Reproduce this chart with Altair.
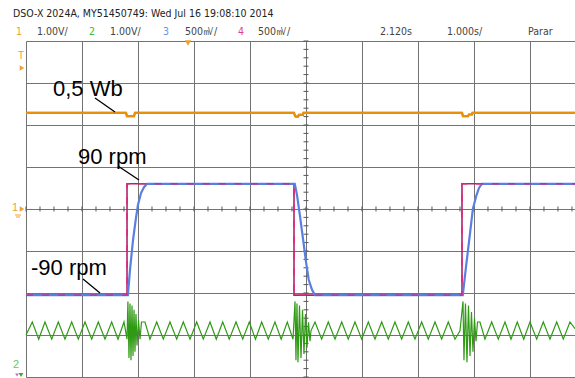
import altair as alt
import pandas as pd

# ---- data (time in seconds = screen divisions, value in divisions) ----
orange_t = [0.0, 1.786, 1.804, 1.929, 1.946, 4.786, 4.804, 4.821, 4.857, 4.875, 4.946, 4.955,
            7.786, 7.804, 7.893, 7.911, 7.964, 7.973, 9.804]
orange_v = [6.29, 6.29, 6.21, 6.21, 6.29, 6.29, 6.22, 6.20, 6.20, 6.24, 6.24, 6.29,
            6.29, 6.21, 6.21, 6.25, 6.25, 6.29, 6.29]

ref_t = [0.0, 1.804, 1.804, 4.786, 4.786, 7.786, 7.786, 9.804]
ref_v = [1.95, 1.95, 4.60, 4.60, 1.95, 1.95, 4.60, 4.60]

speed_t = [0.0, 1.82, 1.857, 1.911, 1.964, 2.0, 2.054, 2.107, 2.161,
           4.80, 4.84, 4.89, 4.95, 5.0, 5.05, 5.11, 5.16,
           7.80, 7.86, 7.93, 7.98, 8.04, 8.09, 8.14, 9.804]
speed_v = [1.95, 1.95, 2.55, 3.26, 3.79, 4.10, 4.38, 4.52, 4.60,
           4.60, 4.33, 3.86, 3.26, 2.74, 2.31, 2.07, 1.95,
           1.95, 2.65, 3.43, 4.00, 4.31, 4.50, 4.60, 4.60]

green_t = [0.0, 0.1125, 0.227, 0.339, 0.459, 0.577, 0.696, 0.816, 0.934, 1.054, 1.173, 1.291,
           1.411, 1.530, 1.643, 1.75, 1.804,
           1.82, 1.839, 1.857, 1.875, 1.893, 1.911, 1.929, 1.946, 1.964, 1.982, 2.009, 2.036,
           2.0625, 2.125, 2.214, 2.334, 2.452, 2.571, 2.691, 2.809, 2.929, 3.048, 3.166, 3.286,
           3.398, 3.513, 3.630, 3.75, 3.870, 3.988, 4.098, 4.209, 4.327, 4.446, 4.557, 4.666, 4.768,
           4.804, 4.821, 4.839, 4.857, 4.884, 4.911, 4.938, 4.964, 4.991, 5.018, 5.045, 5.071,
           5.089, 5.161, 5.280, 5.398, 5.518, 5.638, 5.755, 5.875, 5.995, 6.113, 6.232, 6.352,
           6.470, 6.589, 6.709, 6.827, 6.946, 7.066, 7.184, 7.304, 7.423, 7.541, 7.661, 7.75,
           7.804, 7.821, 7.848, 7.875, 7.902, 7.929, 7.955, 7.982, 8.009, 8.036,
           8.063, 8.107, 8.196, 8.316, 8.434, 8.554, 8.661, 8.773, 8.888, 9.0, 9.120, 9.238,
           9.357, 9.477, 9.595, 9.714, 9.804]
green_v = [1.0, 1.31, 0.9, 1.31, 0.9, 1.31, 0.9, 1.31, 0.9, 1.31, 0.9, 1.31,
           0.9, 1.31, 0.9, 1.31, 0.9,
           1.8, 0.45, 1.75, 0.4, 1.7, 0.5, 1.6, 0.6, 1.5, 0.75, 1.35, 0.9,
           1.31, 1.31, 0.9, 1.31, 0.9, 1.31, 0.9, 1.31, 0.9, 1.31, 0.9, 1.31,
           0.9, 1.31, 0.9, 1.31, 0.9, 1.31, 0.9, 1.31, 0.9, 1.31, 0.9, 1.31, 0.9,
           1.8, 0.4, 1.75, 0.35, 1.7, 0.45, 1.6, 0.55, 1.5, 0.7, 1.3, 0.85,
           1.1, 1.31, 0.9, 1.31, 0.9, 1.31, 0.9, 1.31, 0.9, 1.31, 0.9, 1.31,
           0.9, 1.31, 0.9, 1.31, 0.9, 1.31, 0.9, 1.31, 0.9, 1.31, 0.9, 1.1,
           1.8, 0.4, 1.75, 0.35, 1.7, 0.5, 1.55, 0.6, 1.4, 0.85,
           1.31, 1.31, 0.9, 1.31, 0.9, 1.31, 0.9, 1.31, 0.9, 1.31, 0.9, 1.31,
           0.9, 1.31, 0.9, 1.31, 1.15]

x_grid = [0, 1, 2, 3, 4, 5, 6, 7, 8, 9]
y_grid = [0, 1, 2, 3, 4, 5, 6, 7, 8]
x_minor = [k / 4 for k in range(0, 40)]
y_minor = [k / 5 for k in range(0, 41)]

W, H = 549, 336
XMAX = 9.804

xs = alt.Scale(domain=[0, XMAX], nice=False, zero=False)
ys = alt.Scale(domain=[0, 8], nice=False, zero=False)

GRID = "#737373"
FONT_HDR = "DejaVu Sans Condensed, Liberation Sans Narrow, Liberation Sans"
FONT_ANN = "Liberation Sans"
HDR_SIZE = 10.5


def line_df(t, v):
    return pd.DataFrame({"t": t, "v": v, "i": list(range(len(t)))})


grid_layer = alt.Chart(line_df(orange_t, orange_v)).mark_line(
    color="#e8900a", strokeWidth=2.2
).encode(
    x=alt.X("t:Q", scale=xs, axis=alt.Axis(values=x_grid, grid=True, gridColor=GRID, gridWidth=1,
                                           labels=False, ticks=False, domain=False, title=None)),
    y=alt.Y("v:Q", scale=ys, axis=alt.Axis(values=y_grid, grid=True, gridColor=GRID, gridWidth=1,
                                           labels=False, ticks=False, domain=False, title=None)),
    order="i:Q",
)

xtick_layer = alt.Chart(pd.DataFrame({"t": x_minor})).mark_rule(color="#555", strokeWidth=1).encode(
    x=alt.X("t:Q", scale=xs), y=alt.value(165.5), y2=alt.value(170.5)
)
ytick_layer = alt.Chart(pd.DataFrame({"v": y_minor})).mark_rule(color="#555", strokeWidth=1).encode(
    y=alt.Y("v:Q", scale=ys), x=alt.value(277.5), x2=alt.value(282.5)
)

ref_solid = alt.Chart(line_df(ref_t, ref_v)).mark_line(color="#b0246a", strokeWidth=1.6).encode(
    x=alt.X("t:Q", scale=xs), y=alt.Y("v:Q", scale=ys), order="i:Q"
)
speed_layer = alt.Chart(line_df(speed_t, speed_v)).mark_line(color="#5a7fe0", strokeWidth=2.2).encode(
    x=alt.X("t:Q", scale=xs), y=alt.Y("v:Q", scale=ys), order="i:Q"
)
ref_dash = alt.Chart(line_df(ref_t, ref_v)).mark_line(
    color="#e8207a", strokeWidth=1.4, strokeDash=[7, 9]
).encode(x=alt.X("t:Q", scale=xs), y=alt.Y("v:Q", scale=ys), order="i:Q")

green_layer = alt.Chart(line_df(green_t, green_v)).mark_line(color="#2f9a14", strokeWidth=1.2).encode(
    x=alt.X("t:Q", scale=xs), y=alt.Y("v:Q", scale=ys), order="i:Q"
)

dummy = pd.DataFrame({"d": [0]})


def txt(s, x, y, color="#444", size=HDR_SIZE, font=FONT_HDR, baseline="middle"):
    return alt.Chart(dummy).mark_text(
        text=s, color=color, fontSize=size, font=font, align="left", baseline=baseline
    ).encode(x=alt.value(x), y=alt.value(y))


def seg(x1, y1, x2, y2, color="black", w=1.3):
    return alt.Chart(dummy).mark_rule(color=color, strokeWidth=w).encode(
        x=alt.value(x1), y=alt.value(y1), x2=alt.value(x2), y2=alt.value(y2)
    )


def tri(shape, x, y, color, size=30):
    return alt.Chart(dummy).mark_point(shape=shape, filled=True, color=color, size=size, opacity=1).encode(
        x=alt.value(x), y=alt.value(y)
    )


header = [
    txt("DSO-X 2024A, MY51450749: Wed Jul 16 19:08:10 2014", -13, -27, color="#222"),
    txt("1", -10, -9, color="#f0a030"),
    txt("1.00V/", 11, -9),
    txt("2", 63, -9, color="#44bb33"),
    txt("1.00V/", 84, -9),
    txt("3", 137, -9, color="#7090e0"),
    txt("500㎷/", 159, -9),
    txt("4", 212, -9, color="#e0408a"),
    txt("500㎷/", 232, -9),
    txt("2.120s", 354, -9),
    txt("1.000s/", 421, -9),
    txt("Parar", 502, -9),
]

annotations = [
    txt("0,5 Wb", 27, 55, color="black", size=22, font=FONT_ANN, baseline="alphabetic"),
    seg(69, 57, 89, 71),
    txt("90 rpm", 52, 123, color="black", size=22, font=FONT_ANN, baseline="alphabetic"),
    seg(92, 125, 113, 139),
    txt("-90 rpm", 5, 234, color="black", size=22, font=FONT_ANN, baseline="alphabetic"),
    seg(57, 238, 74, 252),
]

markers = [
    txt("T", -8, 15, color="#f0a030", size=10, font=FONT_ANN),
    tri("triangle-right", -4, 27, "#f0a030", 28),
    txt("1", -14, 167, color="#f0a030", size=11, font=FONT_ANN),
    tri("triangle-right", -4, 168, "#f0a030", 28),
    seg(-11, 174, -5, 174, color="#f0a030", w=1),
    seg(-10, 176, -6, 176, color="#f0a030", w=1),
    tri("triangle-down", 162, 2, "#f0a030", 40),
    txt("2", -13, 324, color="#66cc55", size=11, font=FONT_ANN),
    tri("triangle-down", -5, 334, "#33aa33", 22),
    tri("triangle-down", -9, 334, "#cc66cc", 14),
]

chart = alt.layer(
    grid_layer,
    xtick_layer,
    ytick_layer,
    green_layer,
    ref_solid,
    speed_layer,
    ref_dash,
    grid_layer.encode(),
    *annotations,
    *header,
    *markers,
).properties(
    width=W,
    height=H,
    padding={"left": 26, "top": 41, "right": 0, "bottom": 1},
    autosize=alt.AutoSizeParams(type="none"),
    background="white",
).configure_view(stroke=None)

chart.save("out.html", embed_options={"renderer": "svg", "actions": False})
